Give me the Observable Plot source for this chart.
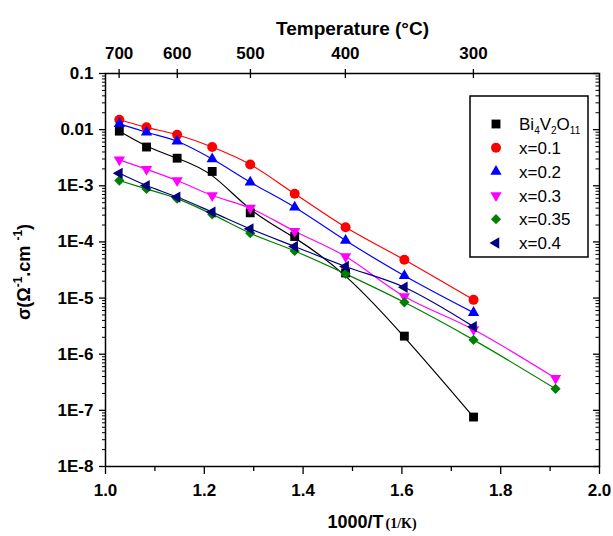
<!DOCTYPE html>
<html><head><meta charset="utf-8">
<script src="https://cdn.jsdelivr.net/npm/d3@7"></script>
<script src="https://cdn.jsdelivr.net/npm/@observablehq/plot@0.6"></script>
<style>body{margin:0;background:#fff}</style>
</head><body><div id="chart"></div>
<script>
// ---- data ----
const invT = [1.028, 1.083, 1.145, 1.216, 1.293, 1.383, 1.486, 1.605, 1.745, 1.911];
const sigmaBi4V2O11 = [9.4e-3, 4.9e-3, 3.1e-3, 1.8e-3, 3.3e-4, 1.25e-4, 2.8e-5, 2.1e-6, 7.6e-8];
const sigmaX01  = [1.5e-2, 1.1e-2, 8.1e-3, 4.9e-3, 2.4e-3, 7.2e-4, 1.83e-4, 4.8e-5, 9.3e-6];
const sigmaX02  = [1.27e-2, 9.0e-3, 6.2e-3, 3.0e-3, 1.16e-3, 4.15e-4, 1.06e-4, 2.5e-5, 5.5e-6];
const sigmaX03  = [2.9e-3, 1.97e-3, 1.24e-3, 6.7e-4, 4.0e-4, 1.55e-4, 5.5e-5, 1.07e-5, 2.75e-6, 3.74e-7];
const sigmaX035 = [1.24e-3, 8.8e-4, 5.9e-4, 3.1e-4, 1.43e-4, 6.9e-5, 2.7e-5, 8.4e-6, 1.8e-6, 2.42e-7];
const sigmaX04  = [1.67e-3, 1.01e-3, 6.3e-4, 3.4e-4, 1.71e-4, 8.3e-5, 3.65e-5, 1.56e-5, 3.1e-6];

const seriesNames  = ["Bi4V2O11", "x=0.1", "x=0.2", "x=0.3", "x=0.35", "x=0.4"];
const seriesColors = ["#000000", "#ff0000", "#0000ff", "#ff00ff", "#008000", "#000080"];

const xMajorTicks = [1.0, 1.2, 1.4, 1.6, 1.8, 2.0];
const xMinorTicks = [1.1, 1.3, 1.5, 1.7, 1.9];
const yDecadeTicks = [1e-1, 1e-2, 1e-3, 1e-4, 1e-5, 1e-6, 1e-7, 1e-8];
const yTickLabels  = ["0.1", "0.01", "1E-3", "1E-4", "1E-5", "1E-6", "1E-7", "1E-8"];
const topTempTicks = [700, 600, 500, 400, 300];
const topTickLabels = ["700", "600", "500", "400", "300"];

// ---- symbols ----
const sqrt3 = Math.sqrt(3);
const symbolTriangleDown = {draw(ctx, size) {
  const y = -Math.sqrt(size / (sqrt3 * 3));
  ctx.moveTo(0, -y * 2); ctx.lineTo(-sqrt3 * y, y); ctx.lineTo(sqrt3 * y, y); ctx.closePath();
}};
const symbolTriangleLeft = {draw(ctx, size) {
  const y = -Math.sqrt(size / (sqrt3 * 3));
  ctx.moveTo(y * 2, 0); ctx.lineTo(-y, -sqrt3 * y); ctx.lineTo(-y, sqrt3 * y); ctx.closePath();
}};
const seriesSymbols = [d3.symbolSquare, d3.symbolCircle, d3.symbolTriangle, symbolTriangleDown, d3.symbolDiamond2, symbolTriangleLeft];
const seriesR = [5, 5, 4.2, 4.2, 4.6, 4.2];
const seriesCurves = ["basis", "catmull-rom", "catmull-rom", "catmull-rom", "catmull-rom", "catmull-rom"];
const seriesValues = [sigmaBi4V2O11, sigmaX01, sigmaX02, sigmaX03, sigmaX035, sigmaX04];

const series = seriesNames.map((name, i) => ({
  name, color: seriesColors[i], symbol: seriesSymbols[i], r: seriesR[i], curve: seriesCurves[i],
  rows: seriesValues[i].map((v, j) => ({x: invT[j], y: v}))
}));

// ---- layout ----
const W = 613, H = 536, mt = 73, mb = 70, ml = 105, mr = 14;
const pw = W - ml - mr, ph = H - mt - mb;
const font = "'Liberation Sans', Arial, sans-serif";

const yMinor = d3.scaleLog().domain([1e-8, 1e-1]).ticks().filter(d => !yDecadeTicks.some(t => Math.abs(t - d) / t < 1e-6));
const yLabelMap = new Map(yDecadeTicks.map((d, i) => [d, yTickLabels[i]]));
const topPos = topTempTicks.map(t => 1000 / (t + 273.15));
const topLabelMap = new Map(topPos.map((d, i) => [d, topTickLabels[i]]));

const chart = Plot.plot({
  width: W, height: H, marginTop: mt, marginBottom: mb, marginLeft: ml, marginRight: mr,
  style: {fontFamily: font, background: "white", color: "black"},
  x: {domain: [1, 2]},
  y: {type: "log", domain: [1e-8, 1e-1]},
  marks: [
    ...series.map(s => Plot.line(s.rows, {x: "x", y: "y", stroke: s.color, strokeWidth: 1.2, curve: s.curve})),
    ...series.map(s => Plot.dot(s.rows, {x: "x", y: "y", fill: s.color, stroke: "none", symbol: s.symbol, r: s.r})),
    Plot.frame({stroke: "black", strokeWidth: 1.5}),
    // bottom axis
    Plot.axisX({anchor: "bottom", ticks: xMajorTicks, tickSize: 8, tickPadding: 9, tickFormat: d => d.toFixed(1),
      fontSize: 17, fontWeight: "bold", label: null, strokeWidth: 1.3}),
    Plot.axisX({anchor: "bottom", ticks: xMinorTicks, tickSize: 5, tickFormat: () => "", label: null, strokeWidth: 1.3}),
    // left axis
    Plot.axisY({anchor: "left", ticks: yDecadeTicks, tickSize: 6, tickPadding: 6, tickFormat: d => yLabelMap.get(d),
      fontSize: 17, fontWeight: "bold", label: null, strokeWidth: 1.3}),
    Plot.axisY({anchor: "left", ticks: yMinor, tickSize: 3, tickFormat: () => "", label: null}),
    // right inward ticks
    Plot.tickY(yDecadeTicks, {y: d => d, insetLeft: pw - 6, stroke: "black", strokeWidth: 1.3}),
    Plot.tickY(yMinor, {y: d => d, insetLeft: pw - 3.5, stroke: "black"}),
    // top temperature axis
    Plot.axisX({anchor: "top", ticks: topPos, tickSize: 5, tickPadding: 10, tickFormat: d => topLabelMap.get(d),
      fontSize: 17, fontWeight: "bold", label: null, strokeWidth: 1.3}),
    Plot.tickX(topPos, {x: d => d, insetBottom: ph - 5, stroke: "black", strokeWidth: 1.3}),
    Plot.text(["Temperature (°C)"], {frameAnchor: "top", dy: -52, fontSize: 19, fontWeight: "bold", fill: "black"})
  ]
});
document.getElementById("chart").appendChild(chart);

// ---- axis titles & legend ----
const svg = d3.select(chart);
const yl = svg.append("text")
  .attr("transform", "translate(30,272) rotate(-90)")
  .attr("text-anchor", "middle").attr("font-family", font).attr("font-weight", "bold").attr("font-size", 18).attr("fill", "black");
yl.append("tspan").text("σ(Ω");
yl.append("tspan").attr("font-size", 12).attr("dy", -8).text("-1");
yl.append("tspan").attr("dy", 8).text(".cm ");
yl.append("tspan").attr("font-size", 12).attr("dy", -8).text("-1");
yl.append("tspan").attr("dy", 8).text(")");

const xl = svg.append("text").attr("x", 372).attr("y", 528).attr("text-anchor", "middle").attr("fill", "black");
xl.append("tspan").attr("font-family", font).attr("font-weight", "bold").attr("font-size", 18).text("1000/T");
xl.append("tspan").attr("font-family", "'Liberation Serif', 'Times New Roman', serif").attr("font-weight", "bold").attr("font-size", 14).attr("dx", 2).text("(1/K)");

const lg = svg.append("g");
lg.append("rect").attr("x", 470).attr("y", 96).attr("width", 118).attr("height", 161)
  .attr("fill", "white").attr("stroke", "black").attr("stroke-width", 1.5);
series.forEach((s, i) => {
  const cy = 124 + i * 23.8;
  lg.append("path").attr("transform", `translate(496,${cy})`)
    .attr("d", d3.symbol(s.symbol, Math.PI * s.r * s.r)()).attr("fill", s.color);
  const t = lg.append("text").attr("x", 519).attr("y", cy).attr("dy", "0.36em").attr("text-anchor", "start")
    .attr("font-family", font).attr("font-size", 17).attr("fill", "black");
  if (i === 0) {
    t.append("tspan").text("Bi");
    t.append("tspan").attr("font-size", 10).attr("dy", 4).text("4");
    t.append("tspan").attr("dy", -4).text("V");
    t.append("tspan").attr("font-size", 10).attr("dy", 4).text("2");
    t.append("tspan").attr("dy", -4).text("O");
    t.append("tspan").attr("font-size", 10).attr("dy", 4).text("11");
  } else {
    t.text(s.name);
  }
});
</script>
</body></html>
